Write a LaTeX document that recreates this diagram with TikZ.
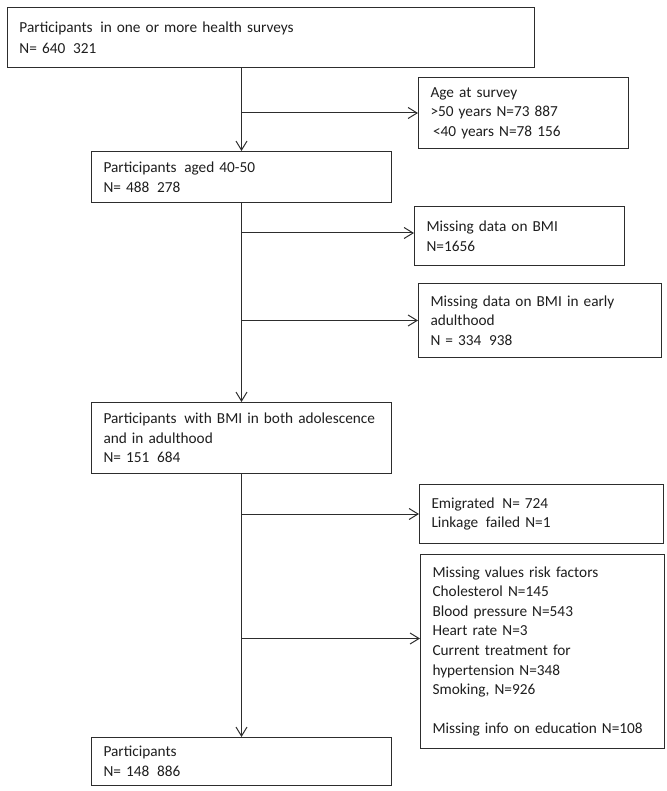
\documentclass[tikz,border=0pt]{standalone}
\usepackage{fontspec}
\setmainfont{Carlito}
\usetikzlibrary{arrows.meta, calc}
\definecolor{linegray}{RGB}{45,45,45}
\definecolor{textgray}{RGB}{30,30,30}
\begin{document}
\begin{tikzpicture}[
  x=1pt, y=-1pt,
  line width=1pt,
  draw=linegray,
  box/.style={draw=linegray, anchor=north west, align=left, inner xsep=11.5pt,
    text=textgray, font=\fontsize{15.3pt}{19.6pt}\selectfont},
  flow/.style={draw=linegray, -{Straight Barb[length=9pt, width=11pt]}},
  ]
  \useasboundingbox (0,0) rectangle (666,791);

  % main column
  \node[box, minimum width=527pt, minimum height=60pt, text width=503pt] (all) at (7,7)
    {Participants \,in one or more health surveys\\[1pt] N= 640 \,321};
  \node[box, minimum width=300pt, minimum height=51pt, text width=276pt] (aged) at (91,151)
    {Participants \,aged 40-50\\ N= 488 \,278};
  \node[box, minimum width=300pt, minimum height=71pt, text width=276pt] (both) at (91,402)
    {Participants \,with BMI in both adolescence\\ and in adulthood\\ N= 151 \,684};
  \node[box, minimum width=300pt, minimum height=48pt, text width=276pt] (final) at (91,737)
    {Participants\\ N= 148 \,886};

  % excluded boxes
  \node[box, minimum width=210pt, minimum height=71pt, text width=186pt] (age) at (418,77)
    {Age at survey\\ >50 years N=73 887\\ \,<40 years N=78 156};
  \node[box, minimum width=210pt, minimum height=59pt, text width=186pt] (bmi) at (414,206)
    {Missing data on BMI\\ N=1656};
  \node[box, minimum width=243pt, minimum height=74pt, text width=219pt] (early) at (418,283)
    {Missing data on BMI in early\\ adulthood\\ N = 334 \,938};
  \node[box, minimum width=244pt, minimum height=59pt, text width=220pt] (emig) at (419,484)
    {Emigrated \,N= 724\\ Linkage \,failed N=1};
  \node[box, minimum width=244pt, minimum height=194pt, text width=220pt] (risk) at (420,554)
    {Missing values risk factors\\ Cholesterol N=145\\ Blood pressure N=543\\
     Heart rate N=3\\ Current treatment for\\ hypertension N=348\\
     Smoking, N=926\\[19.6pt] Missing info on education N=108};

  % vertical flow
  \draw[flow] (all.south -| aged.north) -- (aged.north);
  \draw[flow] (aged.south) -- (both.north);
  \draw[flow] (both.south) -- (final.north);

  % branches to the exclusions
  \draw[flow] (age.west -| aged.north) -- (age.west);
  \coordinate (bmiin) at ([yshift=3pt]bmi.west);
  \draw[flow] (bmiin -| aged.south) -- (bmiin);
  \draw[flow] (early.west -| aged.south) -- (early.west);
  \draw[flow] (emig.west -| both.south) -- (emig.west);
  \coordinate (riskin) at ([yshift=13pt]risk.west);
  \draw[flow] (riskin -| both.south) -- (riskin);
\end{tikzpicture}
\end{document}
